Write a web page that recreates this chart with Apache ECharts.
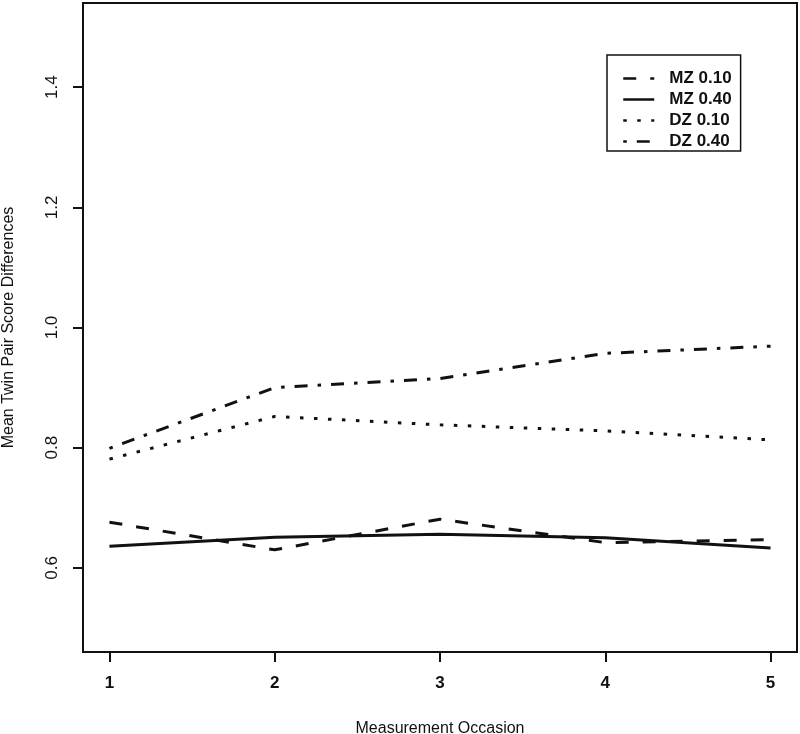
<!DOCTYPE html>
<html>
<head>
<meta charset="utf-8">
<script src="https://cdn.jsdelivr.net/npm/echarts@6/dist/echarts.min.js"></script>
<style>
html,body{margin:0;padding:0;background:#fff;}
#chart{width:800px;height:734px;}
</style>
</head>
<body>
<div id="chart"></div>
<script>
const occasions = [1, 2, 3, 4, 5];
const mz010 = [0.676, 0.630, 0.681, 0.642, 0.647];
const mz040 = [0.636, 0.651, 0.656, 0.650, 0.633];
const dz010 = [0.781, 0.852, 0.838, 0.828, 0.813];
const dz040 = [0.799, 0.900, 0.915, 0.957, 0.969];
const seriesNames = ['MZ 0.10', 'MZ 0.40', 'DZ 0.10', 'DZ 0.40'];
const xTicks = [1, 2, 3, 4, 5];
const yTicks = [0.6, 0.8, 1.0, 1.2, 1.4];

const FONT = 'Liberation Sans, Arial, Helvetica, sans-serif';
const INK = '#111';

function pairs(vals) { return occasions.map((x, i) => [x, vals[i]]); }

const dashes = [
  [13, 14],
  'solid',
  [3.5, 10.5],
  [3.5, 10, 13, 10]
];
const valueSets = [mz010, mz040, dz010, dz040];

const chart = echarts.init(document.getElementById('chart'), null, {renderer: 'canvas'});
chart.setOption({
  backgroundColor: '#fff',
  animation: false,
  grid: {
    left: 83, right: 3, top: 3, bottom: 82,
    outerBoundsMode: 'none', containLabel: false,
    show: true, borderColor: INK, borderWidth: 2, backgroundColor: 'transparent'
  },
  legend: {
    orient: 'vertical',
    left: 607, top: 55,
    padding: [15, 9, 1, 15],
    itemWidth: 31, itemHeight: 14, itemGap: 4,
    borderColor: INK, borderWidth: 1.5,
    data: seriesNames,
    textStyle: {fontFamily: FONT, fontSize: 17, fontWeight: 'bold', color: INK, padding: [0, 0, 0, 10]},
    lineStyle: {width: 2.5},
    itemStyle: {opacity: 0}
  },
  xAxis: {
    type: 'value', min: 0.84, max: 5.16,
    name: 'Measurement Occasion', nameLocation: 'middle', nameGap: 69,
    nameTextStyle: {fontFamily: FONT, fontSize: 16, color: INK},
    axisLine: {show: false},
    axisTick: {show: true, length: 10, inside: false, lineStyle: {color: INK, width: 2}, customValues: xTicks},
    axisLabel: {fontFamily: FONT, fontSize: 17, fontWeight: 'bold', color: INK, margin: 23, customValues: xTicks},
    splitLine: {show: false}
  },
  yAxis: {
    type: 'value', min: 0.46, max: 1.54,
    name: 'Mean Twin Pair Score Differences', nameLocation: 'middle', nameGap: 66,
    nameTextStyle: {fontFamily: FONT, fontSize: 16, color: INK},
    axisLine: {show: false},
    axisTick: {show: true, length: 10, inside: false, lineStyle: {color: INK, width: 2}, customValues: yTicks},
    axisLabel: {fontFamily: FONT, fontSize: 17, color: INK, margin: 22, rotate: 90,
      formatter: v => v.toFixed(1), customValues: yTicks},
    splitLine: {show: false}
  },
  series: seriesNames.map((name, i) => ({
    name: name,
    type: 'line',
    data: pairs(valueSets[i]),
    symbol: 'none',
    smooth: false,
    color: INK,
    lineStyle: {color: INK, width: 3, type: dashes[i], cap: 'butt'}
  }))
});
</script>
</body>
</html>
